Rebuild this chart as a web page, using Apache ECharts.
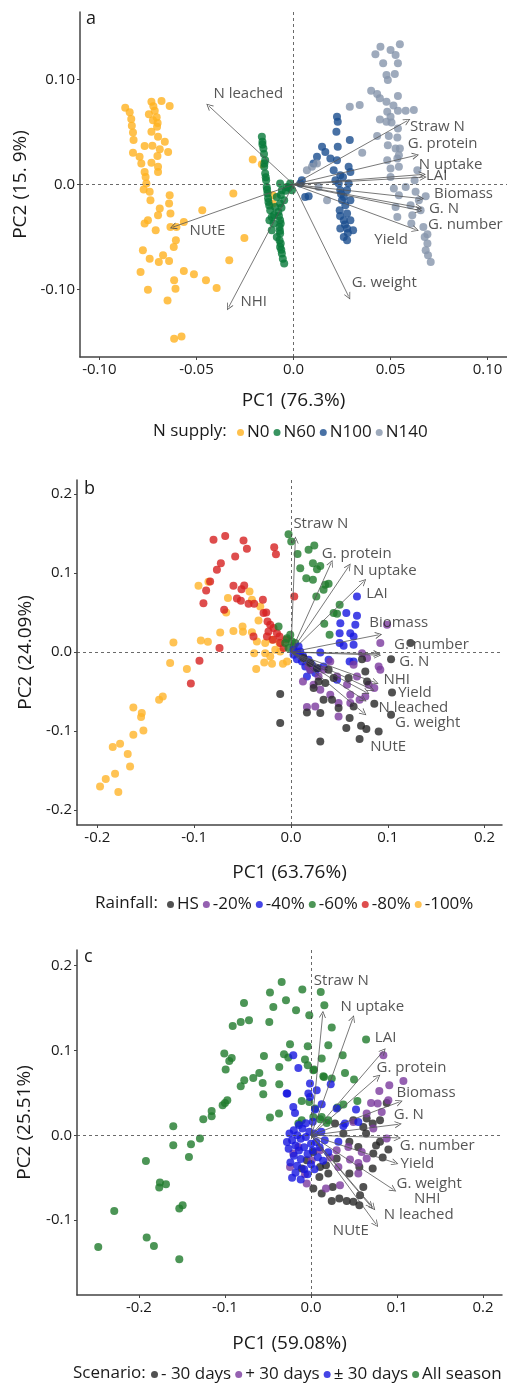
<!DOCTYPE html>
<html>
<head>
<meta charset="utf-8">
<script src="https://cdn.jsdelivr.net/npm/echarts@6/dist/echarts.min.js"></script>
<style>html,body{margin:0;padding:0;background:#fff}#main{width:507px;height:1386px}</style>
</head>
<body>
<div id="main"></div>
<script>
// ---------- panel a : N supply ----------
const aN0 = [[-0.0867,0.073],[-0.0844,0.0686],[-0.0836,0.0622],[-0.0833,0.0558],[-0.0827,0.0495],[-0.0824,0.0422],[-0.0827,0.0301],[-0.0793,0.0263],[-0.0784,0.02],[-0.0767,0.012],[-0.0762,0.0072],[-0.0758,0.001],[-0.0772,-0.0048],[-0.0741,-0.007],[-0.0737,-0.015],[-0.0732,0.0787],[-0.068,0.0793],[-0.0638,0.0746],[-0.0745,0.0667],[-0.0724,0.0612],[-0.0703,0.0549],[-0.0732,0.0501],[-0.0698,0.0453],[-0.0663,0.0406],[-0.0767,0.0365],[-0.0727,0.0368],[-0.0689,0.0336],[-0.0646,0.031],[-0.0701,0.0272],[-0.0732,0.0206],[-0.0698,0.0168],[-0.0698,0.012],[-0.0638,-0.0102],[-0.0641,-0.0181],[-0.0689,-0.0229],[-0.0634,-0.0276],[-0.0698,-0.0292],[-0.075,-0.034],[-0.0767,-0.0371],[-0.0634,-0.0404],[-0.0603,-0.0404],[-0.071,-0.0435],[-0.0606,-0.053],[-0.0617,-0.0594],[-0.0776,-0.0626],[-0.0672,-0.0673],[-0.0741,-0.0705],[-0.0694,-0.0737],[-0.0641,-0.0728],[-0.0788,-0.0832],[-0.0565,-0.0823],[-0.0513,-0.0854],[-0.0615,-0.0911],[-0.0451,-0.0911],[-0.075,-0.1],[-0.0608,-0.099],[-0.0396,-0.0985],[-0.0649,-0.1102],[-0.0615,-0.1467],[-0.0577,-0.1445],[-0.0565,-0.0356],[-0.047,-0.0245],[-0.031,-0.0086],[-0.0253,-0.0509],[-0.0331,-0.0721],[-0.021,0.0238],[-0.0163,0.0193],[-0.0107,-0.0102],[-0.0107,-0.0181],[-0.0722,0.0745],[-0.0715,0.07],[-0.0705,0.064],[-0.07,0.0585]];
const aN60 = [[-0.0163,0.0453],[-0.016,0.0406],[-0.0155,0.0343],[-0.0146,0.0231],[-0.0151,0.0168],[-0.0146,0.0105],[-0.0141,0.0041],[-0.0138,-0.0023],[-0.0134,-0.0086],[-0.0129,-0.0166],[-0.012,-0.0245],[-0.0112,-0.0309],[-0.0124,-0.034],[-0.0069,0.001],[-0.006,-0.0054],[-0.0086,-0.0118],[-0.0069,-0.0181],[-0.0078,-0.0261],[-0.0069,-0.034],[-0.0072,-0.0404],[-0.0069,-0.0467],[-0.0072,-0.053],[-0.0069,-0.0594],[-0.006,-0.0657],[-0.0055,-0.0705],[-0.0048,-0.0752],[-0.0095,-0.0213],[-0.0103,-0.0371],[-0.0034,-0.0023],[-0.0017,0.001],[-0.0008,-0.0054],[-0.0048,-0.015],[-0.0086,-0.0499],[-0.0112,-0.0435],[-0.016,0.038],[-0.0152,0.029],[-0.015,0.02],[-0.0143,0.007],[-0.0136,-0.005],[-0.0131,-0.013],[-0.0125,-0.02],[-0.0065,-0.01],[-0.0062,-0.022],[-0.0075,-0.03],[-0.0066,-0.037],[-0.007,-0.044],[-0.0066,-0.056],[-0.0063,-0.062],[-0.004,-0.006],[-0.0025,-0.003],[-0.01,-0.029]];
const aN100 = [[0.0224,0.0644],[0.0228,0.0596],[0.0221,0.0501],[0.029,0.0422],[0.0147,0.0358],[0.0164,0.031],[0.0228,0.0358],[0.019,0.0248],[0.0224,0.0231],[0.0121,0.0263],[0.0103,0.02],[0.0207,0.0136],[0.0241,0.0089],[0.0284,0.0168],[0.0293,0.012],[0.0043,0.0041],[0.0035,0.001],[0.006,-0.0118],[0.0078,-0.0111],[0.0233,0.001],[0.0241,-0.0054],[0.0276,-0.0054],[0.025,-0.015],[0.0267,-0.0197],[0.0238,-0.0245],[0.0276,-0.0276],[0.0259,-0.034],[0.0293,-0.034],[0.0241,-0.0419],[0.0276,-0.0419],[0.0307,-0.0435],[0.0259,-0.0499],[0.0276,-0.053],[0.0216,0.0041],[0.0284,0.001],[0.0255,0.0072],[0.0259,-0.0118],[0.0293,-0.015],[0.024,-0.03],[0.028,-0.046],[0.0265,-0.038],[0.0245,-0.009]];
const aN140 = [[0.0422,0.1238],[0.0448,0.131],[0.05,0.1279],[0.0548,0.1333],[0.0526,0.1231],[0.0462,0.1152],[0.0538,0.1152],[0.0479,0.1041],[0.0522,0.105],[0.0486,0.0993],[0.04,0.0891],[0.0431,0.086],[0.0445,0.0819],[0.0479,0.0787],[0.0538,0.0841],[0.029,0.0739],[0.0341,0.0755],[0.0483,0.0691],[0.05,0.0644],[0.0538,0.0701],[0.0578,0.0701],[0.062,0.0708],[0.0445,0.0619],[0.0479,0.0596],[0.0538,0.0533],[0.0431,0.046],[0.0491,0.046],[0.0535,0.0448],[0.0486,0.0374],[0.0526,0.0343],[0.0548,0.0343],[0.0354,0.0301],[0.0535,0.0248],[0.0095,0.0168],[0.0069,0.0136],[0.0121,0.02],[0.05,0.0152],[0.0543,0.0168],[0.05,0.0072],[0.0624,0.0041],[0.0638,0.0136],[0.0517,-0.0038],[0.0578,-0.0023],[0.0543,-0.0102],[0.0629,-0.007],[0.0173,-0.015],[0.0129,-0.0023],[0.0526,-0.0213],[0.0603,-0.0197],[0.0681,-0.0111],[0.0535,-0.0309],[0.0612,-0.0292],[0.0655,-0.0245],[0.0607,-0.0371],[0.0669,-0.0404],[0.0676,-0.0499],[0.069,-0.0562],[0.0681,-0.0626],[0.0693,-0.0673],[0.0707,-0.0737],[0.069,-0.0473],[0.0646,-0.015],[0.0483,0.0231],[0.0543,0.0279],[0.0505,0.059],[0.0515,0.075]];
const aVars = ['Straw N','G. protein','N uptake','LAI','Biomass','G. N','G. number','Yield','G. weight','NHI','NUtE','N leached'];
const aEnds = [[0.0586,0.0606],[0.0629,0.0276],[0.0664,0.0095],[0.0668,0.007],[0.0655,-0.0133],[0.0646,-0.0219],[0.0646,-0.0245],[0.0629,-0.0429],[0.0284,-0.1064],[-0.0334,-0.1166],[-0.062,-0.0404],[-0.0436,0.0746]];
const aLabelAt = [[0.0598,0.0549],[0.0586,0.039],[0.0643,0.019],[0.068,0.0079],[0.0721,-0.0086],[0.0695,-0.0235],[0.069,-0.0381],[0.0414,-0.0524],[0.0297,-0.0933],[-0.0276,-0.111],[-0.0539,-0.0435],[-0.0415,0.086]];

// ---------- panel b : rainfall ----------
const bHS = [[-0.0111,-0.0532],[-0.0111,-0.0899],[0.0734,-0.0089],[0.1034,-0.0089],[0.1234,0.0114],[0.0786,-0.0372],[0.1044,-0.0511],[0.0861,-0.0654],[0.1034,-0.0794],[0.0724,-0.0933],[0.0779,-0.0975],[0.0906,-0.1005],[0.0709,-0.1101],[0.0303,-0.1132],[0.0572,-0.0962],[0.0606,-0.0835],[0.0303,-0.0772],[0.0337,-0.0604],[0.0424,-0.0604],[0.0165,-0.0765],[0.0647,-0.0689],[0.0492,-0.0709],[0.0234,-0.0456],[0.0355,-0.0392],[0.0285,-0.0372],[0.0389,-0.0224],[0.0269,-0.0203],[0.013,-0.0076],[0.02,-0.0139],[0.0441,-0.0329],[0.0596,-0.0329],[0.0768,-0.0246]];
const bM20 = [[0.0923,0.0114],[0.0734,-0.0013],[0.0786,-0.0076],[0.0906,-0.0182],[0.0923,-0.0224],[0.0861,-0.0456],[0.0803,-0.0414],[0.0768,-0.0562],[0.0613,-0.054],[0.0709,-0.0604],[0.0492,-0.0646],[0.0406,-0.054],[0.0165,-0.0696],[0.0251,-0.0689],[0.0492,-0.0815],[0.0613,-0.0646],[0.0124,-0.0372],[0.0234,-0.0414],[0.0406,-0.0119],[0.0647,-0.0161],[0.0993,0.0346],[0.0476,-0.0309],[0.0337,-0.0224],[0.02,-0.0224],[0.0285,-0.0309],[0.0579,-0.0414],[0.0682,-0.0309],[0.0303,-0.0477],[0.0182,-0.0182]];
const bM40 = [[0.0682,0.0704],[0.0572,0.0494],[0.0682,0.046],[0.0665,0.0346],[0.051,0.0367],[0.0613,0.024],[0.0503,0.024],[0.0647,0.0197],[0.0503,0.0114],[0.0544,0.008],[0.0647,0.0092],[0.0303,-0.0005],[0.0606,-0.0119],[0.0647,-0.0119],[0.0476,-0.0351],[0.0079,0.0071],[0.0096,0.0008],[0.0027,-0.0034],[0.0062,-0.0089],[0.0114,-0.0119],[0.0148,-0.0182],[0.02,-0.0224],[0.0251,-0.0266],[0.0165,-0.0309],[0.0389,-0.0097],[0.0337,-0.0182],[0.0027,0.0029],[0.0068,-0.0013],[0.0124,-0.0047],[0.0182,-0.0097],[0.0217,-0.0161],[0.0285,-0.0203]];
const bM60 = [[-0.0025,0.1494],[0.0003,0.14],[0.0068,0.1244],[0.0182,0.1295],[0.0241,0.1349],[0.0096,0.1063],[0.0227,0.1127],[0.0269,0.1051],[0.0303,0.1092],[0.0158,0.0937],[0.0227,0.0915],[0.0355,0.0852],[0.0389,0.0865],[0.0337,0.0789],[0.0262,0.0704],[0.0503,0.0599],[0.0441,0.0494],[0.0476,0.0485],[0.0344,0.0358],[0.0399,0.0219],[-0.0128,0.0324],[-0.0007,0.0219],[-0.0041,0.0177],[0.001,0.0134],[-0.0059,0.0114],[0.0027,0.0071],[-0.0025,0.0051],[0.0044,0.0114]];
const bM80 = [[-0.08,0.1422],[-0.0679,0.1472],[-0.049,0.1413],[-0.0455,0.1308],[-0.0576,0.121],[-0.0173,0.1329],[-0.0155,0.124],[-0.0724,0.1127],[-0.0765,0.1042],[-0.0835,0.0894],[-0.0876,0.078],[-0.0904,0.062],[-0.0594,0.0839],[-0.0483,0.0843],[-0.0511,0.0797],[-0.0558,0.0678],[-0.0517,0.0649],[-0.0438,0.0611],[-0.038,0.0611],[-0.029,0.0662],[-0.069,0.0535],[-0.0283,0.0494],[-0.0255,0.0501],[0.0034,0.0704],[-0.0387,0.0197],[-0.0738,0.0051],[-0.0945,-0.011],[-0.1034,-0.0397],[-0.0242,0.0387],[-0.0214,0.0346],[-0.0232,0.0261],[-0.018,0.0304],[-0.0248,0.0197],[-0.0145,0.024],[-0.0186,0.0156],[-0.0111,0.0114],[-0.0077,0.0051],[-0.0118,0.0197],[-0.0049,0.0156]];
const bM100 = [[-0.1972,-0.1701],[-0.1913,-0.1608],[-0.1783,-0.1772],[-0.1817,-0.154],[-0.1662,-0.1448],[-0.1686,-0.1291],[-0.1841,-0.1203],[-0.1765,-0.1161],[-0.1628,-0.1047],[-0.1524,-0.0992],[-0.1548,-0.0823],[-0.1541,-0.0772],[-0.1628,-0.0701],[-0.1362,-0.0604],[-0.1324,-0.0562],[-0.1248,-0.0139],[-0.1075,-0.0215],[-0.1214,0.0122],[-0.0931,0.0147],[-0.0858,0.013],[-0.0731,0.0248],[-0.0594,0.0266],[-0.05,0.0324],[-0.0496,0.0257],[-0.0403,0.0253],[-0.0955,0.0839],[-0.0852,0.089],[-0.0651,0.0684],[-0.0669,0.0501],[-0.0428,0.0767],[-0.0403,0.0662],[-0.0335,0.04],[-0.0317,0.0577],[-0.0352,0.0134],[-0.0266,0.0114],[-0.038,-0.0013],[-0.0266,-0.0013],[-0.0214,-0.0056],[-0.0276,-0.0132],[-0.0196,-0.0148],[-0.0359,-0.0215],[-0.0083,-0.0148],[-0.0041,-0.0119],[-0.0162,0.0029],[-0.0111,0.0008],[-0.0196,0.0156],[-0.0118,0.0114]];
const bVars = ['Straw N','G. protein','N uptake','LAI','Biomass','G. number','G. N','NHI','Yield','N leached','G. weight','NUtE'];
const bEnds = [[0.0045,0.142],[0.0414,0.1127],[0.0596,0.1084],[0.0751,0.0894],[0.0906,0.0219],[0.0896,-0.0038],[0.0889,-0.002],[0.0872,-0.0385],[0.083,-0.047],[0.0779,-0.0511],[0.075,-0.06],[0.0751,-0.0772]];
const bLabelAt = [[0.002,0.162],[0.0313,0.125],[0.0637,0.103],[0.0772,0.0734],[0.0803,0.0375],[0.106,0.0089],[0.1113,-0.0123],[0.0951,-0.035],[0.1102,-0.0519],[0.09,-0.0709],[0.107,-0.09],[0.0813,-0.1195]];

// ---------- panel c : scenario ----------
const cMinus = [[0.088,0.038],[0.0802,0.0176],[0.0717,0.0137],[0.0608,0.0098],[0.064,0.002],[0.0446,-0.0078],[0.0802,-0.0078],[0.0756,-0.0122],[0.0899,-0.0169],[0.0724,-0.0216],[0.055,-0.0137],[0.0833,-0.0263],[0.0717,-0.0392],[0.0562,-0.0373],[0.0446,-0.0451],[0.0608,-0.0608],[0.057,-0.0706],[0.0562,-0.0824],[0.0492,-0.0784],[0.0415,-0.0773],[0.0329,-0.0745],[0.0241,-0.0773],[0.0252,-0.0608],[0.0124,-0.0686],[0.0027,-0.0627],[0.0097,-0.049],[-0.0108,-0.0392],[-0.005,-0.0294],[0.0027,-0.0196],[0.0174,-0.0353],[0.0298,-0.0275],[0.0201,-0.0451],[0.0105,-0.0373],[0.0279,0.0137],[0.0376,0.002],[0.0492,0.0176],[0.0647,0.0196]];
const cPlus = [[0.0841,0.0941],[0.1074,0.0639],[0.091,0.0588],[0.0794,0.0521],[0.0775,0.0373],[0.0899,0.0412],[0.0698,0.038],[0.0647,0.0255],[0.0822,0.0274],[0.0492,0.0157],[0.0647,-0.0275],[0.055,-0.0451],[0.0453,-0.0286],[0.0337,-0.0588],[0.0174,-0.0627],[-0.005,-0.0569],[-0.0244,-0.0373],[-0.007,-0.0459],[0.0221,-0.0263],[0.0298,-0.0176],[0.0434,-0.0137],[0.0105,-0.0176],[0.0008,-0.0294],[0.0318,-0.0373],[0.055,-0.0326],[0.088,-0.0039],[0.0724,0.0079],[-0.0206,-0.0216],[-0.0147,-0.0137],[0.0589,-0.0196]];
const cBoth = [[-0.0206,0.0941],[-0.0147,0.0792],[-0.0276,0.049],[-0.0012,0.0608],[0.0066,0.0529],[-0.0012,0.0451],[-0.0206,0.0333],[-0.0186,0.0262],[0.0047,0.0302],[0.0229,0.06],[0.0523,0.0302],[0.055,0.0157],[0.0376,0.0109],[0.0124,0.0365],[-0.0031,0.049],[0.0318,-0.0078],[0.0395,0.0137],[0.0298,0.0314],[-0.0283,0.049],[-0.025,0.002],[-0.022,-0.006],[-0.02,0.006],[-0.018,-0.012],[-0.016,0.0],[-0.014,-0.018],[-0.012,-0.004],[-0.01,0.008],[-0.008,-0.014],[-0.006,-0.002],[-0.004,-0.022],[-0.002,0.004],[0.0,-0.01],[0.002,-0.018],[0.004,0.002],[0.006,-0.008],[0.008,-0.026],[0.01,-0.014],[-0.02,-0.024],[-0.024,-0.032],[-0.016,-0.036],[-0.012,-0.028],[-0.008,-0.04],[-0.018,-0.044],[-0.022,-0.05],[-0.012,-0.052],[-0.004,-0.046],[0.0,-0.034],[0.004,-0.04],[-0.026,-0.016],[-0.028,-0.008],[0.012,0.004],[0.016,-0.006],[-0.006,0.014],[0.002,0.016],[-0.014,0.012],[0.02,-0.02],[0.014,-0.03]];
const cAll = [[-0.2473,-0.1314],[-0.191,-0.1204],[-0.1826,-0.1302],[-0.1531,-0.1459],[-0.2287,-0.0891],[-0.1531,-0.0863],[-0.1492,-0.0824],[-0.1764,-0.0616],[-0.1756,-0.0557],[-0.1686,-0.0576],[-0.1919,-0.0302],[-0.1601,-0.0118],[-0.1601,0.0106],[-0.1419,-0.0255],[-0.1395,-0.0106],[-0.1291,-0.0039],[-0.1252,0.0188],[-0.1155,0.0224],[-0.1155,0.0286],[-0.1027,0.0353],[-0.1,0.038],[-0.0973,0.0412],[-0.0817,0.0576],[-0.0776,0.0647],[-0.0671,0.0674],[-0.0601,0.0733],[-0.0555,0.0482],[-0.0477,0.0208],[-0.0372,0.0255],[-0.0369,0.06],[-0.0369,0.0804],[-0.0992,0.0773],[-0.095,0.0874],[-0.0922,0.0909],[-0.1008,0.0961],[-0.0547,0.0933],[-0.0314,0.0953],[-0.0244,0.1071],[-0.0264,0.0914],[-0.0038,0.1047],[-0.007,0.0891],[-0.0038,0.0824],[0.0035,0.0773],[0.0124,0.0902],[0.0201,0.1059],[0.0241,0.1267],[0.0151,0.0686],[-0.0108,0.0404],[-0.002,0.0392],[-0.0485,0.1333],[-0.0721,0.1353],[-0.0817,0.1333],[-0.091,0.1286],[-0.0779,0.1557],[-0.0438,0.151],[-0.0477,0.1679],[-0.0341,0.1804],[-0.0291,0.1588],[-0.0174,0.1471],[-0.0101,0.1714],[-0.002,0.1412],[0.0113,0.1686],[0.0155,0.1529],[-0.0562,0.0615],[-0.0108,0.0176],[0.0027,0.0216],[0.0124,0.0216],[0.0182,0.0145],[0.0047,0.0314],[-0.0147,0.0137],[0.064,0.1126],[0.0368,0.0941],[0.0395,0.0733],[0.05,0.0655],[0.0539,0.0404],[0.0376,0.0361],[0.0306,0.0326],[0.0241,0.0667],[0.0143,0.0694],[0.0027,0.0765],[0.0201,0.0176],[0.0105,0.0188]];
const cVars = ['Straw N','N uptake','LAI','G. protein','Biomass','G. N','G. number','Yield','G. weight','NHI','N leached','NUtE'];
const cEnds = [[0.0136,0.1424],[0.0485,0.1373],[0.0841,0.0992],[0.0775,0.0686],[0.1027,0.0392],[0.1015,0.0129],[0.1004,-0.0031],[0.0977,-0.0325],[0.0957,-0.0639],[0.072,-0.085],[0.069,-0.083],[0.0756,-0.1047]];
const cLabelAt = [[0.0027,0.182],[0.0337,0.1518],[0.0736,0.115],[0.0756,0.0792],[0.0988,0.0498],[0.0957,0.0247],[0.1027,-0.0125],[0.1035,-0.0341],[0.0988,-0.0569],[0.119,-0.0745],[0.0841,-0.0941],[0.0248,-0.1126]];

const aTicksX = [-0.1,-0.05,0,0.05,0.1], aTicksY = [-0.1,0,0.1];
const bTicks = [-0.2,-0.1,0,0.1,0.2];
const cTicksX = [-0.2,-0.1,0,0.1,0.2], cTicksY = [-0.1,0,0.1,0.2];

const FONT = '"Open Sans", sans-serif';
const TXT = '#1a1a1a';

function fmt(dec) {
  return v => Math.abs(v) < 1e-9 ? '0.0' : v.toFixed(dec);
}
function axis(grid, min, max, ticks, dec, name, gap) {
  return {
    gridIndex: grid, type: 'value', min: min, max: max,
    name: name, nameLocation: 'middle', nameGap: gap,
    nameTextStyle: {fontSize: 19, color: TXT, fontFamily: FONT},
    axisLine: {onZero: false, lineStyle: {color: '#444', width: 1.5}},
    axisTick: {show: true, customValues: ticks, length: 3, lineStyle: {color: '#444'}},
    axisLabel: {customValues: ticks, formatter: fmt(dec), fontSize: 15, color: TXT, fontFamily: FONT, margin: 5},
    splitLine: {show: false}
  };
}
function points(name, grid, data, color, zeroLines) {
  const s = {
    name: name, type: 'scatter', xAxisIndex: grid, yAxisIndex: grid,
    data: data, symbolSize: 8,
    itemStyle: {color: color, opacity: 0.8},
    emphasis: {disabled: true}
  };
  if (zeroLines) {
    s.markLine = {
      silent: true, symbol: 'none', label: {show: false},
      lineStyle: {type: [3, 3], color: '#444', width: 0.8},
      data: [{xAxis: 0}, {yAxis: 0}]
    };
  }
  return s;
}
function arrows(grid, ends) {
  return {
    type: 'lines', coordinateSystem: 'cartesian2d', xAxisIndex: grid, yAxisIndex: grid,
    z: 5, silent: true,
    symbol: ['none', 'path://M0,10L5,0L10,10L8.8,10L5,2.4L1.2,10Z'], symbolSize: 7,
    lineStyle: {color: '#555', width: 0.8, opacity: 1},
    data: ends.map(e => ({coords: [[0, 0], e]}))
  };
}
function names(grid, vars, at) {
  return {
    type: 'scatter', xAxisIndex: grid, yAxisIndex: grid, z: 6, silent: true,
    symbolSize: 1, itemStyle: {color: 'rgba(0,0,0,0)'},
    label: {show: true, position: 'right', distance: 0, formatter: '{b}', fontSize: 15, color: '#2a2a2a', fontFamily: FONT},
    data: vars.map((v, i) => ({name: v, value: at[i]}))
  };
}
function legend(items, left, top) {
  return {
    data: items, left: left, top: top, icon: 'circle', itemWidth: 7, itemHeight: 7,
    itemGap: 4, padding: 0, selectedMode: false,
    textStyle: {fontSize: 17, color: TXT, fontFamily: FONT, padding: [0, 0, 0, -2]}
  };
}
function caption(text, left, top, size) {
  return {type: 'text', left: left, top: top, style: {text: text, font: size + 'px "Open Sans", sans-serif', fill: TXT}};
}

const chart = echarts.init(document.getElementById('main'));
chart.setOption({
  animation: false,
  backgroundColor: '#fff',
  grid: [
    {left: 80, top: 12, width: 427, height: 345},
    {left: 77, top: 480, width: 425, height: 345},
    {left: 77, top: 950, width: 425, height: 345}
  ],
  xAxis: [
    axis(0, -0.11, 0.11, aTicksX, 2, 'PC1 (76.3%)', 34),
    axis(1, -0.221, 0.218, bTicks, 1, 'PC1 (63.76%)', 38),
    axis(2, -0.272, 0.222, cTicksX, 1, 'PC1 (59.08%)', 39)
  ],
  yAxis: [
    axis(0, -0.164, 0.164, aTicksY, 2, 'PC2 (15. 9%)', 41),
    axis(1, -0.219, 0.218, bTicks, 1, 'PC2 (24.09%)', 38),
    axis(2, -0.188, 0.218, cTicksY, 1, 'PC2 (25.51%)', 43)
  ],
  legend: [
    legend(['N0', 'N60', 'N100', 'N140'], 237, 424),
    legend(['HS', '-20%', '-40%', '-60%', '-80%', '-100%'], 167, 896),
    legend(['- 30 days', '+ 30 days', '± 30 days', 'All season'], 151, 1366)
  ],
  graphic: [
    caption('N supply:', 153, 423, 17),
    caption('Rainfall:', 95, 895, 17),
    caption('Scenario:', 73, 1365, 17),
    caption('a', 86, 10, 18),
    caption('b', 84, 480, 18),
    caption('c', 84, 948, 18)
  ],
  series: [
    points('N0', 0, aN0, '#FFB21F', true),
    points('N60', 0, aN60, '#08793A'),
    points('N100', 0, aN100, '#1A4E8F'),
    points('N140', 0, aN140, '#8695AB'),
    arrows(0, aEnds),
    names(0, aVars, aLabelAt),

    points('-100%', 1, bM100, '#FFB429', true),
    points('-80%', 1, bM80, '#D62121'),
    points('-60%', 1, bM60, '#1F7A2C'),
    points('-40%', 1, bM40, '#1616E0'),
    points('-20%', 1, bM20, '#7B3A9E'),
    points('HS', 1, bHS, '#262626'),
    arrows(1, bEnds),
    names(1, bVars, bLabelAt),

    points('- 30 days', 2, cMinus, '#262626', true),
    points('+ 30 days', 2, cPlus, '#7B3A9E'),
    points('All season', 2, cAll, '#1F7A2C'),
    points('± 30 days', 2, cBoth, '#1616E0'),
    arrows(2, cEnds),
    names(2, cVars, cLabelAt)
  ]
});
window.addEventListener('resize', () => chart.resize());
</script>
</body>
</html>
